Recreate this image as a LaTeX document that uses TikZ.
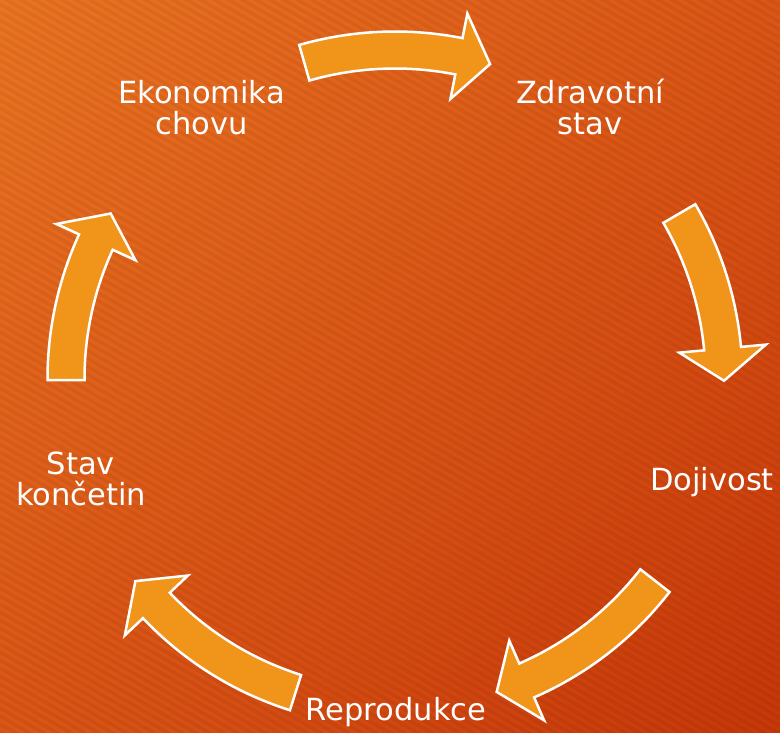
\documentclass[tikz,border=0pt]{standalone}
\usepackage{fontspec}
\setmainfont{DejaVu Sans}
\usetikzlibrary{shadings}
\definecolor{bgA}{RGB}{234,116,34}
\definecolor{bgB}{RGB}{219,86,22}
\definecolor{bgC}{RGB}{199,55,9}
\definecolor{arrowfill}{RGB}{240,149,26}
\tikzset{
  cyclearrow/.style={fill=arrowfill, draw=white, line width=2.5pt, line join=miter},
  cyclelabel/.style={text=white, font=\fontsize{30.5}{31}\selectfont, align=center, anchor=base, inner sep=0pt},
  stripe/.style={draw=black, opacity=0.05, line width=3.5pt},
}
\newcommand\mycyclearrow[2]{%
  \pgfmathsetmacro\aB{#2-5.6}
  \draw[cyclearrow] (#1:310.5) -- (#1:347.5)
    arc[start angle=#1, end angle=\aB, radius=347.5]
    -- (\aB:372.5) -- (#2:329) -- (\aB:285.5) -- (\aB:310.5)
    arc[start angle=\aB, end angle=#1, radius=310.5] -- cycle;
}
\begin{document}
\begin{tikzpicture}[x=1pt, y=-1pt]
  \useasboundingbox (0,0) rectangle (780,732);
  \shade[upper left=bgA, upper right=bgB, lower left=bgB, lower right=bgC] (0,0) rectangle (780,732);
  \begin{scope}
    \clip (0,0) rectangle (780,732);
    \foreach \b in {-460,-452,...,740} \draw[stripe] (0,\b) -- (780,\b+450);
  \end{scope}
  \begin{scope}[shift={(395,379)}]
    \mycyclearrow{254}{286.8}
    \mycyclearrow{329.8}{360.3}
    \mycyclearrow{37.8}{72}
    \mycyclearrow{107.6}{142.1}
    \mycyclearrow{179.8}{210.2}
  \end{scope}
  \node[cyclelabel] (eko) at (201.5,134) {Ekonomika\\chovu};
  \node[cyclelabel] (zdr) at (590,134) {Zdravotní\\stav};
  \node[cyclelabel] (doj) at (712,490) {Dojivost};
  \node[cyclelabel] (sta) at (81,505) {Stav\\končetin};
  \node[cyclelabel] (rep) at (396,720) {Reprodukce};
\end{tikzpicture}
\end{document}
